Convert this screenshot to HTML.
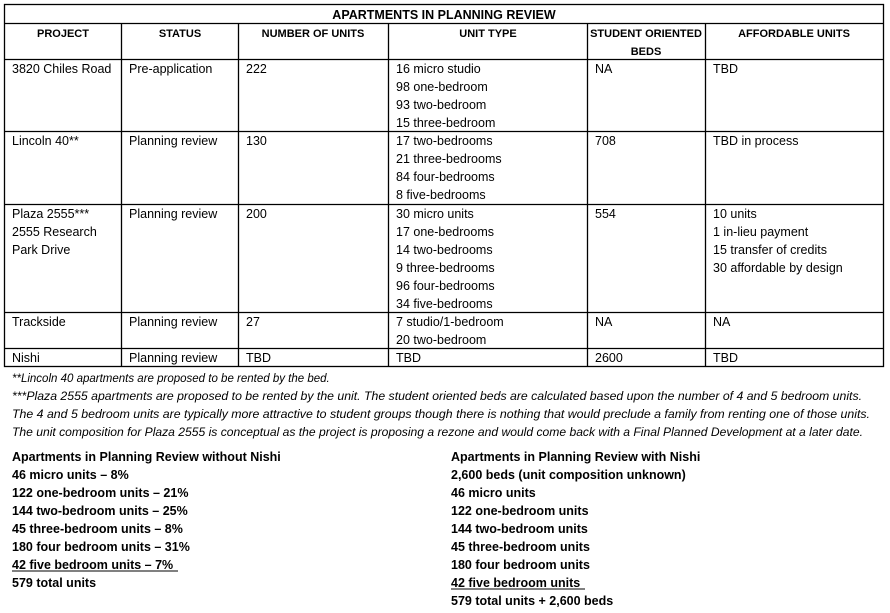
<!DOCTYPE html>
<html><head><meta charset="utf-8"><style>
html,body{margin:0;padding:0;background:#fff}
svg{display:block}
text{font-family:"Liberation Sans",sans-serif;fill:#000}
.c{font-size:12.5px}
.h{font-size:11px;font-weight:bold}
.f{font-size:11.5px;font-style:italic}
.b{font-size:12.5px;font-weight:bold}
</style></head><body>
<svg width="890" height="613" xmlns="http://www.w3.org/2000/svg">
<g stroke="#000" stroke-width="1.3" fill="none">
<rect x="4.5" y="4.5" width="879" height="362"/>
<line x1="4" y1="23.5" x2="884" y2="23.5"/>
<line x1="4" y1="59.5" x2="884" y2="59.5"/>
<line x1="4" y1="131.5" x2="884" y2="131.5"/>
<line x1="4" y1="204.5" x2="884" y2="204.5"/>
<line x1="4" y1="312.5" x2="884" y2="312.5"/>
<line x1="4" y1="348.5" x2="884" y2="348.5"/>
<line x1="121.5" y1="23" x2="121.5" y2="367"/>
<line x1="238.5" y1="23" x2="238.5" y2="367"/>
<line x1="388.5" y1="23" x2="388.5" y2="367"/>
<line x1="587.5" y1="23" x2="587.5" y2="367"/>
<line x1="705.5" y1="23" x2="705.5" y2="367"/>
</g>
<text class="b" x="444" y="19" text-anchor="middle">APARTMENTS IN PLANNING REVIEW</text>
<g class="h" text-anchor="middle">
<text x="63" y="37">PROJECT</text>
<text x="180" y="37">STATUS</text>
<text x="313" y="37">NUMBER OF UNITS</text>
<text x="488" y="37">UNIT TYPE</text>
<text x="646" y="37">STUDENT ORIENTED</text>
<text x="646" y="55">BEDS</text>
<text x="794" y="37">AFFORDABLE UNITS</text>
</g>
<g class="c">
<text x="12" y="73">3820 Chiles Road</text><text x="129" y="73">Pre-application</text><text x="246" y="73">222</text>
<text x="396" y="73">16 micro studio</text><text x="396" y="91">98 one-bedroom</text><text x="396" y="109">93 two-bedroom</text><text x="396" y="127">15 three-bedroom</text>
<text x="595" y="73">NA</text><text x="713" y="73">TBD</text>

<text x="12" y="145">Lincoln 40**</text><text x="129" y="145">Planning review</text><text x="246" y="145">130</text>
<text x="396" y="145">17 two-bedrooms</text><text x="396" y="163">21 three-bedrooms</text><text x="396" y="181">84 four-bedrooms</text><text x="396" y="199">8 five-bedrooms</text>
<text x="595" y="145">708</text><text x="713" y="145">TBD in process</text>

<text x="12" y="218">Plaza 2555***</text><text x="12" y="236">2555 Research</text><text x="12" y="254">Park Drive</text>
<text x="129" y="218">Planning review</text><text x="246" y="218">200</text>
<text x="396" y="218">30 micro units</text><text x="396" y="236">17 one-bedrooms</text><text x="396" y="254">14 two-bedrooms</text><text x="396" y="272">9 three-bedrooms</text><text x="396" y="290">96 four-bedrooms</text><text x="396" y="308">34 five-bedrooms</text>
<text x="595" y="218">554</text>
<text x="713" y="218">10 units</text><text x="713" y="236">1 in-lieu payment</text><text x="713" y="254">15 transfer of credits</text><text x="713" y="272">30 affordable by design</text>

<text x="12" y="326">Trackside</text><text x="129" y="326">Planning review</text><text x="246" y="326">27</text>
<text x="396" y="326">7 studio/1-bedroom</text><text x="396" y="344">20 two-bedroom</text>
<text x="595" y="326">NA</text><text x="713" y="326">NA</text>

<text x="12" y="362">Nishi</text><text x="129" y="362">Planning review</text><text x="246" y="362">TBD</text>
<text x="396" y="362">TBD</text><text x="595" y="362">2600</text><text x="713" y="362">TBD</text>
</g>
<g class="f">
<text x="12" y="382">**Lincoln 40 apartments are proposed to be rented by the bed.</text>
<text x="12" y="400" textLength="850" lengthAdjust="spacingAndGlyphs">***Plaza 2555 apartments are proposed to be rented by the unit.  The student oriented beds are calculated based upon the number of 4 and 5 bedroom units.</text>
<text x="12" y="418" textLength="858" lengthAdjust="spacingAndGlyphs">The 4 and 5 bedroom units are typically more attractive  to student groups though there is nothing that would preclude a family from renting one of those units.</text>
<text x="12" y="436" textLength="851" lengthAdjust="spacingAndGlyphs">The unit composition for Plaza 2555 is conceptual as the project is proposing a rezone and would come back with a Final Planned Development at a later date.</text>
</g>
<g class="b">
<text x="12" y="461">Apartments in Planning Review without Nishi</text>
<text x="12" y="479">46 micro units – 8%</text>
<text x="12" y="497">122 one-bedroom units – 21%</text>
<text x="12" y="515">144 two-bedroom units – 25%</text>
<text x="12" y="533">45 three-bedroom units – 8%</text>
<text x="12" y="551">180 four bedroom units – 31%</text>
<text x="12" y="569">42 five bedroom units – 7%</text>
<text x="12" y="587">579 total units</text>
<text x="451" y="461">Apartments in Planning Review with Nishi</text>
<text x="451" y="479">2,600 beds (unit composition unknown)</text>
<text x="451" y="497">46 micro units</text>
<text x="451" y="515">122 one-bedroom units</text>
<text x="451" y="533">144 two-bedroom units</text>
<text x="451" y="551">45 three-bedroom units</text>
<text x="451" y="569">180 four bedroom units</text>
<text x="451" y="587">42 five bedroom units</text>
<text x="451" y="605">579 total units + 2,600 beds</text>
</g>
<line x1="12" y1="571" x2="178" y2="571" stroke="#000" stroke-width="1"/>
<line x1="451" y1="589" x2="585" y2="589" stroke="#000" stroke-width="1"/>
</svg>
</body></html>
